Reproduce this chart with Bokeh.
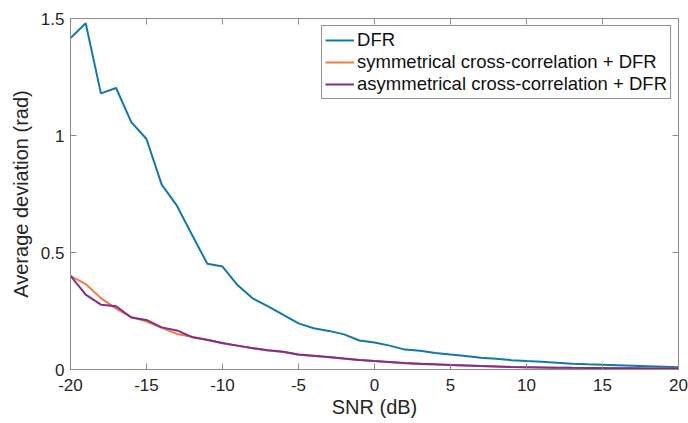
from bokeh.plotting import figure
from bokeh.models import Range1d, LinearAxis, FixedTicker, CustomJSTickFormatter, Legend, LegendItem
from bokeh.embed import file_html
from bokeh.resources import INLINE

snr = list(range(-20, 21))
dfr = [1.416, 1.48, 1.18, 1.203, 1.057, 0.985, 0.79, 0.70, 0.575, 0.452, 0.44,
       0.36, 0.303, 0.27, 0.233, 0.197, 0.176, 0.165, 0.15, 0.124, 0.115,
       0.102, 0.085, 0.08, 0.071, 0.064, 0.058, 0.05, 0.046, 0.04, 0.036,
       0.033, 0.029, 0.025, 0.022, 0.02, 0.018, 0.016, 0.014, 0.012, 0.01]
sym = [0.40, 0.365, 0.305, 0.26, 0.224, 0.205, 0.178, 0.152, 0.140, 0.126, 0.112,
       0.101, 0.091, 0.081, 0.075, 0.063, 0.058, 0.052, 0.046, 0.041, 0.036,
       0.031, 0.027, 0.024, 0.021, 0.019, 0.017, 0.015, 0.013, 0.011, 0.010,
       0.009, 0.008, 0.007, 0.0065, 0.006, 0.0055, 0.005, 0.0045, 0.004, 0.004]
asym = [0.40, 0.32, 0.277, 0.27, 0.222, 0.212, 0.18, 0.167, 0.138, 0.127, 0.113,
        0.102, 0.091, 0.082, 0.076, 0.064, 0.059, 0.053, 0.047, 0.041, 0.036,
        0.032, 0.028, 0.025, 0.022, 0.019, 0.017, 0.015, 0.013, 0.011, 0.010,
        0.009, 0.008, 0.007, 0.0065, 0.006, 0.0055, 0.005, 0.0045, 0.004, 0.004]
labels = ["DFR", "symmetrical cross-correlation + DFR", "asymmetrical cross-correlation + DFR"]
x_ticks = [-20, -15, -10, -5, 0, 5, 10, 15, 20]
y_ticks = [0, 0.5, 1, 1.5]

FONT = "Liberation Sans"
AX_COL = "#8c8c8c"
TXT_COL = "#262626"

p = figure(width=688, height=423, output_backend="svg", toolbar_location=None,
           x_range=Range1d(-20, 20), y_range=Range1d(0, 1.5),
           min_border_left=70, min_border_right=10, min_border_top=18, min_border_bottom=54)
p.xgrid.visible = False
p.ygrid.visible = False
p.outline_line_color = AX_COL
p.outline_line_width = 1
p.background_fill_color = "white"
p.border_fill_color = "white"

fmt = CustomJSTickFormatter(code="return tick.toString();")
for ax, ticks in ((p.xaxis[0], x_ticks), (p.yaxis[0], y_ticks)):
    ax.ticker = FixedTicker(ticks=ticks)
    ax.formatter = fmt
    ax.axis_line_color = AX_COL
    ax.major_tick_line_color = AX_COL
    ax.major_tick_in = 6
    ax.major_tick_out = 0
    ax.minor_tick_line_color = None
    ax.major_label_text_font = FONT
    ax.major_label_text_font_size = "17px"
    ax.major_label_text_color = TXT_COL
    ax.axis_label_text_font = FONT
    ax.axis_label_text_font_size = "20px"
    ax.axis_label_text_font_style = "normal"
    ax.axis_label_text_color = TXT_COL

p.xaxis.axis_label = "SNR (dB)"
p.yaxis.axis_label = "Average deviation (rad)"
p.xaxis.major_label_standoff = 9
p.xaxis.axis_label_standoff = 2
p.yaxis.major_label_standoff = 6
p.yaxis.axis_label_standoff = 6

empty = CustomJSTickFormatter(code="return '';")
top = LinearAxis(ticker=FixedTicker(ticks=x_ticks), formatter=empty,
                 axis_line_color=AX_COL, major_tick_line_color=AX_COL,
                 major_tick_in=6, major_tick_out=0, minor_tick_line_color=None,
                 major_label_standoff=0, major_label_text_font_size="1px")
right = LinearAxis(ticker=FixedTicker(ticks=y_ticks), formatter=empty,
                   axis_line_color=AX_COL, major_tick_line_color=AX_COL,
                   major_tick_in=6, major_tick_out=0, minor_tick_line_color=None,
                   major_label_standoff=0, major_label_text_font_size="1px")
p.add_layout(top, "above")
p.add_layout(right, "right")

r1 = p.line(snr, dfr, line_color="#0f78b0", line_width=2)
r2 = p.line(snr, sym, line_color="#f27a3f", line_width=2)
r3 = p.line(snr, asym, line_color="#7e2f8e", line_width=2)

legend = Legend(items=[LegendItem(label=labels[0], renderers=[r1]),
                       LegendItem(label=labels[1], renderers=[r2]),
                       LegendItem(label=labels[2], renderers=[r3])],
                location="top_right", margin=7, padding=3, spacing=0,
                label_standoff=3, glyph_width=29, glyph_height=22, label_height=22,
                label_text_font=FONT, label_text_font_size="18.5px",
                label_text_color="#111111",
                border_line_color="#222222", border_line_width=1,
                background_fill_color="white", background_fill_alpha=1)
p.add_layout(legend, "center")

open("out.html", "w").write(file_html(p, INLINE))
